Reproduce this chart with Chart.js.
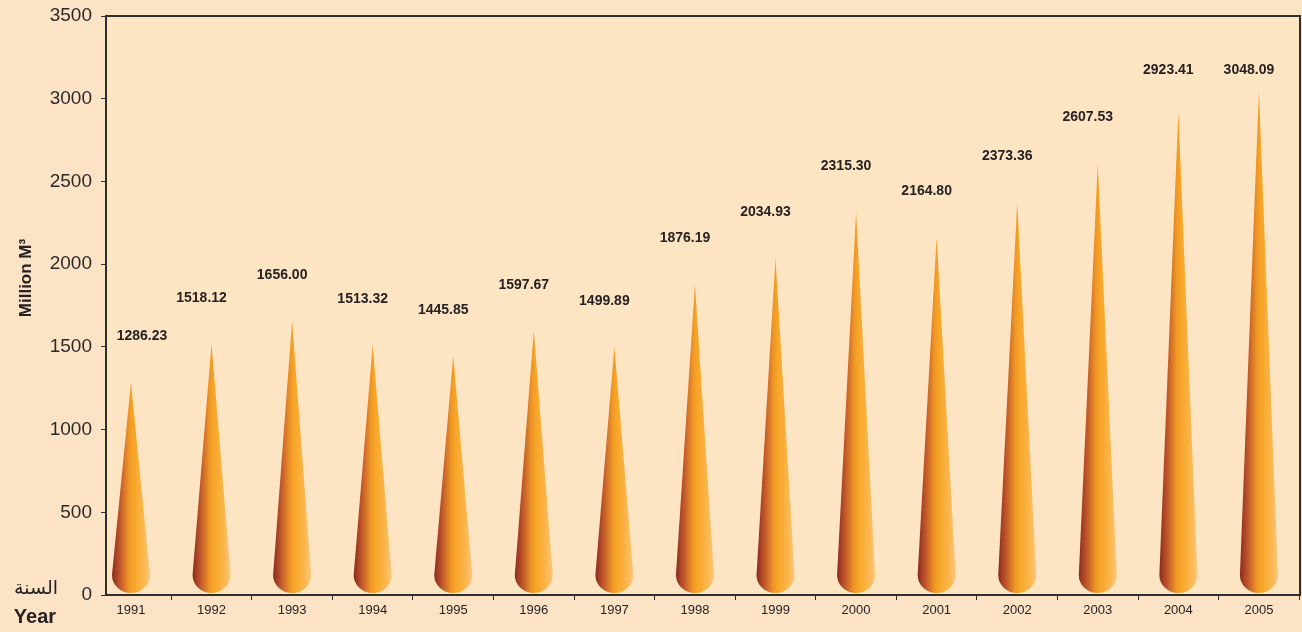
<!DOCTYPE html>
<html>
<head>
<meta charset="utf-8">
<script src="https://cdn.jsdelivr.net/npm/chart.js@4/dist/chart.umd.min.js"></script>
<style>
  html, body { margin: 0; padding: 0; background: #fde3c6; }
  #wrap { width: 1302px; height: 632px; }
</style>
</head>
<body>
<div id="wrap"><canvas id="chart" width="1302" height="632"></canvas></div>
<script>
/* water volume per year, million m3 */
const years = [1991, 1992, 1993, 1994, 1995, 1996, 1997, 1998, 1999, 2000, 2001, 2002, 2003, 2004, 2005];
const volumes = [1286.23, 1518.12, 1656.00, 1513.32, 1445.85, 1597.67, 1499.89, 1876.19,
                 2034.93, 2315.30, 2164.80, 2373.36, 2607.53, 2923.41, 3048.09];
const yTicks = [0, 500, 1000, 1500, 2000, 2500, 3000, 3500];

const INK = '#262223';
const AXIS = '#2e2e2e';

// background + box around the plot
const frame = {
  id: 'frame',
  beforeDraw(chart) {
    const { ctx, chartArea: a } = chart;
    ctx.save();
    ctx.fillStyle = '#fde3c6';
    ctx.fillRect(0, 0, chart.width, chart.height);
    ctx.fillStyle = '#fde5c3';
    ctx.fillRect(a.left, a.top, a.right - a.left, a.bottom - a.top);
    ctx.restore();
  },
  afterDraw(chart) {
    const { ctx, chartArea: a } = chart;
    ctx.save();
    ctx.strokeStyle = AXIS;
    ctx.lineWidth = 2;
    ctx.beginPath();
    ctx.moveTo(a.left, a.top);
    ctx.lineTo(a.right, a.top);
    ctx.lineTo(a.right, a.bottom);
    ctx.stroke();

    // side texts
    ctx.fillStyle = INK;
    ctx.textAlign = 'center';
    ctx.textBaseline = 'middle';
    ctx.font = 'bold 20px "Liberation Sans", Arial, sans-serif';
    ctx.fillText('Year', 35, 617);
    ctx.font = '19px "DejaVu Sans", sans-serif';
    ctx.fillText('السنة', 36, 589);

    ctx.save();
    ctx.translate(26, 278);
    ctx.rotate(-Math.PI / 2);
    ctx.font = 'bold 17px "Liberation Sans", Arial, sans-serif';
    ctx.fillText('Million M³', 0, 0);
    ctx.restore();

    // cut off heading at the very top
    ctx.font = 'bold 16px "DejaVu Sans", sans-serif';
    ctx.textBaseline = 'alphabetic';
    ctx.fillText('(مليون م³)', 733, -4);
    ctx.restore();
  }
};

// cones with rounded bottoms, drawn at the scale positions of each point
const cones = {
  id: 'cones',
  afterDatasetsDraw(chart) {
    const { ctx, chartArea: a } = chart;
    const meta = chart.getDatasetMeta(0);
    const base = chart.scales.y.getPixelForValue(0);
    const r = 19;
    ctx.save();
    meta.data.forEach((pt, i) => {
      const x = pt.x, tip = pt.y;
      const cy = base - r - 1;
      const g = ctx.createLinearGradient(x - r, 0, x + r, 0);
      g.addColorStop(0, '#8c2a1f');
      g.addColorStop(0.22, '#c2592a');
      g.addColorStop(0.45, '#ef9727');
      g.addColorStop(0.55, '#f7a426');
      g.addColorStop(0.8, '#fab548');
      g.addColorStop(1, '#fcc57c');
      ctx.fillStyle = g;
      ctx.beginPath();
      ctx.moveTo(x, tip);
      ctx.lineTo(x + r, cy);
      ctx.ellipse(x, cy, r, r - 1, 0, 0, Math.PI);
      ctx.lineTo(x, tip);
      ctx.closePath();
      ctx.fill();

      // value label
      ctx.fillStyle = INK;
      ctx.font = 'bold 14px "Liberation Sans", Arial, sans-serif';
      ctx.textAlign = 'center';
      ctx.textBaseline = 'middle';
      const ly = Math.max(70, tip - 46);
      const lx = Math.max(a.left + 36, x - 10);
      ctx.fillText(volumes[i].toFixed(2), lx, ly);
    });
    ctx.restore();
  }
};

new Chart(document.getElementById('chart'), {
  type: 'line',
  data: {
    datasets: [{
      data: years.map((y, i) => ({ x: y, y: volumes[i] })),
      showLine: false,
      pointRadius: 0,
      pointHoverRadius: 0
    }]
  },
  options: {
    responsive: false,
    animation: false,
    events: [],
    layout: { padding: { top: 16, right: 2, left: 0, bottom: 0 } },
    plugins: { legend: { display: false }, tooltip: { enabled: false } },
    scales: {
      x: {
        type: 'linear',
        min: 1990.69,
        max: 2005.51,
        afterFit(scale) {
          scale.height = 37;
          scale.paddingLeft = 0;
          scale.paddingRight = 0;
        },
        afterBuildTicks(scale) { scale.ticks = years.map(v => ({ value: v })); },
        border: { display: true, color: AXIS, width: 2 },
        grid: { offset: true, drawOnChartArea: false, drawTicks: true, tickLength: 5, color: AXIS },
        ticks: {
          autoSkip: false,
          maxRotation: 0,
          padding: 3,
          color: INK,
          font: { family: '"Liberation Sans", Arial, sans-serif', size: 13 },
          callback: v => String(v)
        }
      },
      y: {
        min: 0,
        max: 3500,
        afterFit(scale) {
          scale.width = 106;
          scale.paddingTop = 0;
          scale.paddingBottom = 0;
        },
        afterBuildTicks(scale) { scale.ticks = yTicks.map(v => ({ value: v })); },
        border: { display: true, color: AXIS, width: 2 },
        grid: { drawOnChartArea: false, drawTicks: true, tickLength: 5, color: AXIS },
        ticks: {
          padding: 9,
          color: '#2a2a2a',
          font: { family: '"Liberation Sans", Arial, sans-serif', size: 19 },
          callback: v => String(v)
        }
      }
    }
  },
  plugins: [frame, cones]
});
</script>
</body>
</html>
